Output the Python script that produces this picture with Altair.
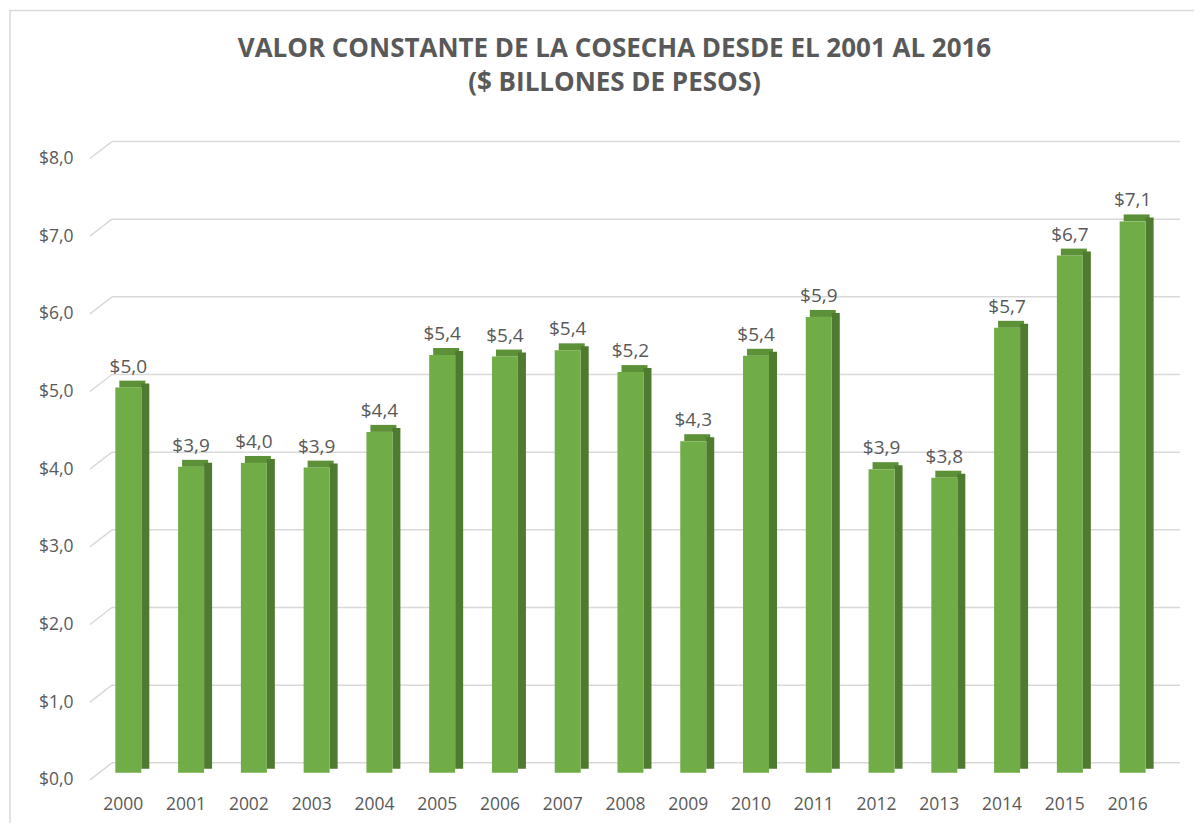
import altair as alt
import pandas as pd

years = ["2000", "2001", "2002", "2003", "2004", "2005", "2006", "2007", "2008",
         "2009", "2010", "2011", "2012", "2013", "2014", "2015", "2016"]
values = [4.96, 3.94, 3.99, 3.93, 4.39, 5.38, 5.36, 5.44, 5.16,
          4.27, 5.37, 5.87, 3.91, 3.80, 5.73, 6.66, 7.10]
y_ticks = [0, 1, 2, 3, 4, 5, 6, 7, 8]
title_lines = ["VALOR CONSTANTE DE LA COSECHA DESDE EL 2001 AL 2016", "($ BILLONES DE PESOS)"]

W = 1067.6
H = 621.6
FRONT = "#70AD47"
SIDE = "#4E7B2F"
TOP = "#5C9138"
GRID = "#D9D9D9"
TXT = "#595959"
FONT = "Open Sans"

df = pd.DataFrame({"year": years, "v": values})
ticks = pd.DataFrame({"t": y_ticks})

yscale = alt.Scale(domain=[0, 8], nice=False)
xscale = alt.Scale(paddingInner=0, paddingOuter=0)

base = alt.Chart(df)

x_enc = alt.X("year:N", scale=xscale, sort=years,
              axis=alt.Axis(title=None, domain=False, ticks=False, labelAngle=0,
                            labelFont=FONT, labelFontSize=17.5, labelColor=TXT,
                            labelBaseline="middle", labelPadding=32, labelOffset=-5))

grid = alt.Chart(ticks).mark_rule(color=GRID, strokeWidth=1.5, yOffset=-10).encode(
    y=alt.Y("t:Q", scale=yscale,
            axis=alt.Axis(title=None, domain=False, ticks=False, grid=False,
                          values=y_ticks, labelFont=FONT, labelFontSize=17.5,
                          labelColor=TXT, labelPadding=24, labelOffset=7,
                          labelExpr="'$' + replace(format(datum.value, '.1f'), '.', ',')")),
    x=alt.value(15),
    x2=alt.value(W + 16),
)
diag = alt.Chart(ticks).mark_rule(color=GRID, strokeWidth=1.5, yOffset=7, y2Offset=-10).encode(
    y=alt.Y("t:Q", scale=yscale),
    y2=alt.Y2("t:Q"),
    x=alt.value(-7),
    x2=alt.value(15),
)

top = base.mark_bar(color=TOP, width=26, xOffset=4, yOffset=-7, y2Offset=0).encode(
    x=x_enc,
    y=alt.Y("v:Q", scale=yscale),
    y2=alt.Y2("v:Q"),
)
side = base.mark_bar(color=SIDE, width=8, xOffset=17, yOffset=-4, y2Offset=-4).encode(
    x=x_enc,
    y=alt.Y("v:Q", scale=yscale),
    y2=alt.Y2(datum=0),
)
front = base.mark_bar(color=FRONT, width=26).encode(
    x=x_enc,
    y=alt.Y("v:Q", scale=yscale),
    y2=alt.Y2(datum=0),
)
labels = base.transform_calculate(
    lab="'$' + replace(format(datum.v, '.1f'), '.', ',')"
).mark_text(font=FONT, fontSize=19, color=TXT, baseline="alphabetic", dy=-15).encode(
    x=x_enc,
    y=alt.Y("v:Q", scale=yscale),
    text="lab:N",
)

border = alt.Chart(pd.DataFrame({"k": [0]})).mark_rect(
    fill=None, stroke=GRID, strokeWidth=1.5
).encode(
    x=alt.value(-87), x2=alt.value(W + 200),
    y=alt.value(-141), y2=alt.value(H + 200),
)

chart = alt.layer(border, grid, diag, top, side, front, labels).properties(
    width=W, height=H,
    title=alt.TitleParams(text=title_lines, font=FONT, fontSize=26, fontWeight="bold",
                          color=TXT, anchor="middle", frame="group", dx=-16, offset=0,
                          dy=86, lineHeight=34),
    padding={"left": 89, "top": 143.4, "right": 30, "bottom": 50},
    autosize=alt.AutoSizeParams(type="none"),
).configure(background="white", view=alt.ViewConfig(stroke=None))

chart.save("out.html", embed_options={"renderer": "svg", "actions": False})
